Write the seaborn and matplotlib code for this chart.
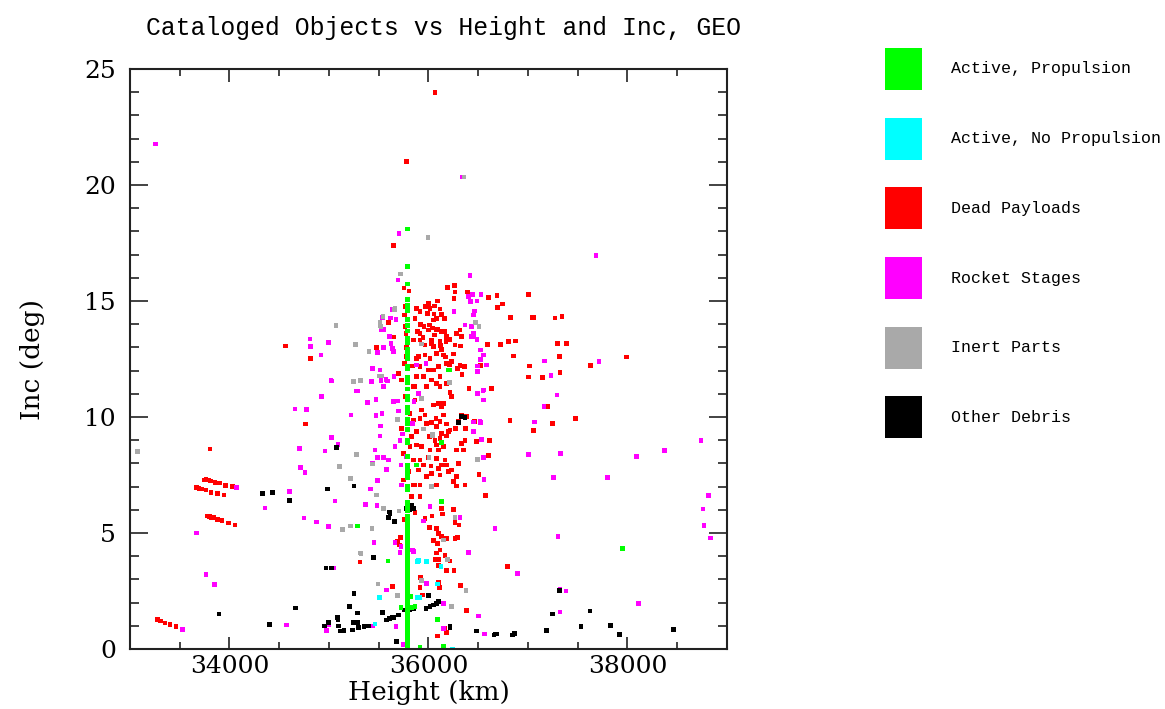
import pandas as pd
import seaborn as sns
import matplotlib.pyplot as plt
from matplotlib.patches import Rectangle
from matplotlib.ticker import MultipleLocator

# -----------------------------
# DATA (height km, inclination deg)
# -----------------------------
GEO_HEIGHT = 35786

red_x = [35780, 36065, 35650, 35754, 35804, 36263, 36193, 36266, 36389, 36256, 36604, 36690, 36744, 37005,
         36088, 36058, 35998, 35596, 35646, 35476,
         35881, 35915, 35968, 35988, 36015, 36055, 36116, 36133, 36159, 36083, 35920, 35955, 36008, 36042,
         36092, 36133, 36058, 36183, 36216, 36283, 36317, 36266, 36176, 36122, 36032, 35945, 35888, 35864,
         35847, 35915, 35770, 35757, 35763, 35775, 35790, 35780,
         36724, 36804, 36874, 36825, 37041, 37061, 36694, 36333, 36594, 36048,
         37271, 37342, 37297, 37387, 36852, 37314, 37988, 37017, 37626, 37003, 37144, 37322, 37198, 37479,
         37244, 37053, 36819, 36611, 36634, 36407, 36370, 36377, 36523,
         36360, 36337, 36317, 36290, 36250, 36210, 36233, 36320, 36173,
         36116, 36183, 36216, 36233, 36149, 36099, 36132, 36048, 36075, 36116, 36149, 36032, 36083, 36183,
         36199, 36132, 36015, 36065, 35965, 35932, 35915, 35982,
         35998, 36082, 36166, 36032, 35915, 35965, 36116, 36216, 36048, 36132, 35965, 35898, 36015, 36082,
         36149, 36183, 36099, 35998, 36048, 36116, 35915, 35948, 35881, 36032, 36082, 35982, 35864,
         36604, 36508, 36575,
         35881, 36008, 36116, 36183, 36082, 36149, 36015, 36099, 35931, 35881, 35998, 36082, 36166, 36132,
         36183, 36099, 36199, 36032, 36116, 35915, 35948, 35898, 35982, 36082, 35915, 35864, 36250, 36283,
         36367, 36283, 36233, 36300, 36350, 36333, 36283, 36216, 36273, 36300, 36333, 36383, 36460, 36367,
         36483, 36025,
         35757, 35696, 35730, 35847, 35764, 35864, 35814, 35847, 35730, 35831, 35814, 35747, 35847, 35797,
         35747, 35847, 35915, 35831, 35780, 35881, 35840,
         35757, 35864, 36132, 36256, 36139, 36266, 36307, 36035, 35965, 35284, 36008, 36082, 36099, 36132,
         36048, 36088, 36183, 36266, 36290, 35720, 35686, 35707, 35311, 36082, 36116, 36166, 36065, 36099,
         36216, 36099, 36183, 36256, 36792, 35921, 35915, 35941, 36099, 36109, 36323, 35640, 36383, 36183,
         36088, 36166, 36250,
         33744, 33764, 33787, 33810, 33854, 33897, 33961, 34028, 33670, 33693, 33720, 33763, 33814, 33877,
         33945, 33781, 33797, 33814, 33837, 33877, 33925, 33988, 34055, 33275, 33308, 33352, 33402, 33462,
         33804, 34765, 34565, 34816]
red_y = [21.0, 24.0, 17.4, 15.56, 15.43, 15.66, 15.58, 15.39, 15.39, 15.1, 15.15, 15.24, 14.87, 15.28,
         15.0, 14.78, 14.88, 14.08, 13.44, 13.0,
         14.68, 14.55, 14.76, 14.47, 14.68, 14.44, 14.66, 14.43, 14.25, 14.25, 14.0, 13.9, 13.97, 13.84,
         13.78, 13.68, 13.53, 13.46, 13.35, 13.61, 13.75, 13.1, 13.26, 13.07, 13.15, 13.42, 13.69, 14.24,
         13.32, 13.6, 14.76, 14.4, 13.9, 13.6, 13.3, 13.0,
         13.13, 13.25, 13.28, 14.29, 14.3, 14.28, 14.72, 13.46, 13.13, 14.18,
         14.26, 14.34, 13.18, 13.18, 12.63, 12.6, 12.58, 12.19, 12.21, 11.72, 11.7, 11.91, 10.46, 9.93,
         9.71, 9.41, 9.86, 9.0, 11.23, 11.24, 9.51, 10.01, 12.21,
         12.18, 11.84, 12.22, 12.09, 12.72, 12.24, 12.4, 13.06, 12.58,
         11.31, 11.45, 11.06, 10.88, 10.59, 10.59, 10.45, 10.52, 9.94, 9.8, 10.09, 9.76, 9.59, 9.69,
         9.38, 9.3, 9.15, 9.0, 10.09, 10.3, 9.94, 9.73,
         13.75, 13.75, 13.68, 13.32, 13.32, 13.1, 13.25, 13.32, 13.05, 12.91, 12.67, 12.6, 12.53, 12.74,
         12.67, 12.31, 12.17, 12.03, 12.03, 11.74, 12.17, 11.74, 11.74, 11.6, 11.45, 11.31, 11.31,
         8.34, 7.53, 6.62,
         9.38, 9.16, 9.08, 9.18, 8.79, 8.72, 8.58, 8.58, 8.72, 8.79, 8.26, 8.21, 8.15, 7.93,
         7.93, 7.79, 7.64, 7.57, 7.5, 8.15, 7.93, 7.72, 7.43, 7.07, 7.07, 7.07, 7.21, 7.03,
         7.07, 7.43, 7.72, 8.0, 8.58, 8.87, 8.58, 9.44, 9.51, 9.8, 10.09, 10.01, 9.8, 9.0,
         8.94, 7.89,
         12.31, 11.88, 11.6, 11.31, 10.88, 10.73, 10.16, 9.87, 9.51, 9.16, 8.72, 8.43, 8.15, 7.64,
         7.28, 7.07, 6.57, 6.57, 12.6, 12.53, 12.2,
         5.59, 5.89, 6.06, 5.99, 5.82, 5.46, 5.34, 5.73, 5.63, 5.3, 5.25, 5.2, 4.99, 4.84,
         4.67, 4.55, 4.77, 4.77, 4.81, 4.81, 4.63, 4.48, 3.75, 4.13, 4.27, 4.02, 3.87, 3.87,
         3.79, 3.6, 3.38, 3.39, 3.55, 3.09, 2.66, 2.33, 2.87, 2.66, 2.73, 2.69, 1.65, 0.7,
         0.56, 0.89, 6.0,
         7.28, 7.3, 7.28, 7.24, 7.17, 7.16, 7.06, 7.0, 6.97, 6.93, 6.89, 6.85, 6.75, 6.71,
         6.63, 5.73, 5.71, 5.68, 5.66, 5.59, 5.55, 5.43, 5.34, 1.28, 1.21, 1.12, 1.06, 0.96,
         8.62, 9.69, 13.06, 12.53]

magenta_x = [33258, 35703, 36337, 35693, 36417, 36443, 36529, 36402, 36422, 36486, 35635, 35533, 35543, 35620,
             35673, 35546, 35606, 35623, 35549, 36450, 36465, 36432, 36367, 36450, 36453, 36486, 36256, 36518,
             35640,
             37684, 37713, 37163, 37231, 37292, 37161, 37064, 38740, 36530, 36548, 36551, 36490, 36454, 36523,
             36453, 36584, 36490, 36490, 36520, 36551, 36520, 36432,
             35435, 35513, 35428, 35523, 35573, 35546, 35284, 35389, 35472, 35686, 35533, 35472, 35221, 35696,
             35519, 35513, 35740, 35462, 35489, 35546, 35596, 35435, 35580, 35724, 35663, 35419, 35730,
             36551, 37005, 36551, 36558, 36518, 36450,
             35881, 35898, 35854, 35840, 35975, 35713, 35780,
             35369, 35482, 36015, 36317, 35948, 35663, 35724, 35452, 35713, 35840, 36400, 36668, 36896, 35982,
             35580, 36149, 36500, 35438, 35673, 36149, 36560, 35747,
             33526, 34072, 33670, 33764, 33851, 34357, 34601, 34658, 34772, 34926, 35024, 35027, 35090, 34702,
             34960, 34716, 34759, 35060, 34749, 34876, 34996, 35047, 34575, 34977, 35000,
             37328, 38092, 38370, 37257, 37800, 38817, 38757, 38770, 38833, 37301, 37322, 37382, 38109, 37322,
             34809, 34816, 34995, 35529, 35613, 35489, 34920, 35020, 35278, 35646, 35653, 35646, 35589, 35486,
             35847]
magenta_y = [21.77, 17.9, 20.35, 15.9, 16.1, 15.29, 15.28, 15.19, 14.98, 15.0, 14.64, 14.28, 14.3, 14.27,
             14.2, 13.78, 13.46, 13.18, 13.0, 14.4, 14.57, 13.9, 13.97, 13.6, 13.46, 13.35, 14.54, 12.89,
             12.95,
             16.95, 12.38, 12.42, 11.78, 10.95, 10.46, 9.78, 9.0, 9.04, 11.12, 10.73, 11.0, 9.38, 9.76,
             9.78, 12.24, 12.2, 11.97, 12.49, 12.67, 12.89, 13.48,
             12.1, 12.03, 11.52, 11.57, 11.62, 11.31, 11.12, 10.63, 10.76, 10.69, 10.16, 10.06, 10.09, 10.26,
             9.61, 9.18, 9.27, 8.58, 8.26, 8.26, 8.15, 8.0, 7.75, 7.93, 8.72, 6.9, 7.07,
             11.16, 8.39, 8.26, 7.31, 9.8, 9.38,
             12.24, 11.02, 10.66, 9.73, 12.31, 9.0, 8.3,
             6.24, 6.19, 6.13, 5.68, 5.52, 4.6, 4.41, 4.6, 4.15, 4.27, 4.16, 5.2, 3.26, 2.83,
             2.54, 1.97, 1.42, 0.99, 0.96, 0.89, 0.65, 0.2,
             0.85, 6.96, 5.0, 3.2, 2.79, 6.08, 6.78, 10.34, 10.32, 10.88, 11.55, 9.11, 8.82, 8.63,
             8.53, 7.83, 7.6, 6.38, 5.65, 5.47, 5.27, 3.49, 1.03, 0.79, 1.06,
             8.42, 8.29, 8.55, 7.39, 7.39, 6.62, 6.03, 5.33, 4.78, 4.84, 2.59, 2.5, 1.95, 1.59,
             13.36, 13.05, 13.2, 13.75, 13.47, 12.78, 12.67, 11.57, 11.12, 10.67, 11.74, 12.82, 11.55, 7.26,
             4.2]

gray_x = [35995, 36357, 35717, 35660, 35663, 35543, 35513, 35513, 35267, 35070, 35523, 35402, 35931, 36474,
          36507, 35506, 35526, 35244, 35318, 35686, 35278, 35438, 35218, 35479, 35104, 33074, 35546, 35703,
          35218, 35137, 35432, 35131, 36266, 36149, 35318, 36189, 35931, 36377, 35492, 35690, 36233, 36210,
          36040, 36038, 36005, 36032, 35931, 35948, 36490, 35321]
gray_y = [17.75, 20.35, 16.16, 14.63, 14.68, 14.32, 14.07, 13.92, 13.13, 13.94, 13.9, 12.82, 13.15, 14.08,
          13.9, 11.77, 11.77, 11.52, 11.57, 9.9, 8.39, 7.97, 7.34, 6.63, 7.86, 8.5, 6.06, 5.95,
          5.3, 5.16, 5.2, 5.13, 5.68, 4.7, 4.13, 3.87, 2.94, 2.51, 2.8, 2.3, 1.82, 11.48,
          9.27, 9.21, 8.26, 7.0, 10.8, 9.48, 8.17, 4.12]

black_x = [36300, 36333, 36367, 35251, 35613, 35596, 35656, 35780, 35446, 35251, 35998, 35975, 36015, 36048,
           36082, 36102, 35204, 35284, 35244, 35284, 35237, 35294, 35352, 35395, 35539, 35580, 35606, 35636,
           35653, 35696, 35754, 35814, 35847, 35151, 36216, 36483, 36658, 36685, 36845, 36869, 35680, 33894,
           34333, 34430, 34605, 35077, 34986, 34970, 35024, 34665, 34400, 34953, 34997, 35094, 35111, 35087,
           35090, 37314, 37244, 37623, 36668, 36863, 37187, 37532, 37831, 37918, 38461, 35831, 35814, 35854,
           36216, 35606]
black_y = [9.76, 10.01, 9.99, 7.03, 5.85, 5.66, 5.49, 6.06, 3.95, 2.38, 2.3, 1.75, 1.82, 1.9,
           1.97, 2.05, 1.82, 1.56, 1.13, 1.13, 0.82, 0.93, 0.96, 0.99, 1.58, 1.25, 1.32, 1.37,
           1.37, 1.47, 1.68, 1.68, 1.75, 0.79, 0.96, 0.78, 0.6, 0.65, 0.6, 0.68, 0.32, 1.51,
           6.71, 6.74, 6.39, 8.69, 6.89, 3.49, 3.49, 1.77, 1.06, 0.99, 1.13, 0.99, 0.78, 1.37,
           1.25, 2.53, 1.51, 1.64, 0.65, 0.68, 0.79, 0.96, 1.02, 0.63, 0.85, 6.18, 5.99, 6.06,
           0.92, 5.9]

cyan_x = [35891, 35898, 35982, 36125, 36088, 35506, 35888, 35915, 35462, 36243]
cyan_y = [3.77, 3.81, 3.77, 3.55, 2.8, 2.23, 2.23, 2.23, 1.08, 0.0]

green_x = [36199, 36210, 36132, 35881, 35593, 35284, 37950, 35821, 36088, 35915, 36149, 35724, 35831, 35864,
           36132]
green_y = [12.03, 12.03, 6.35, 7.93, 3.79, 5.3, 4.32, 2.25, 1.28, 0.07, 0.1, 1.78, 1.78, 1.82,
           8.91]
# active satellites stacked on the GEO belt
green_geo_y = [18.1, 16.5, 15.73, 15.07, 14.8, 14.6, 14.2, 13.95, 13.7, 13.4, 13.2, 12.9, 12.8, 12.6,
               12.5, 12.2, 12.1, 11.7, 11.5, 11.2, 10.9, 10.75, 10.4, 10.2, 9.9, 9.7, 9.45, 9.0, 8.9,
               8.3, 7.9, 7.7, 7.5, 7.4, 7.0, 6.85, 6.33, 6.2, 6.1, 5.95, 5.73, 5.56, 5.4, 5.25, 5.1,
               4.95, 4.8, 4.65, 4.5, 4.35, 4.2, 4.05, 3.9, 3.75, 3.6, 3.45, 3.3, 3.15, 3.0, 2.85, 2.7,
               2.55, 2.4, 2.25, 2.1, 1.95, 1.8, 1.65, 1.5, 1.35, 1.2, 1.05, 0.9, 0.75, 0.6, 0.45, 0.3,
               0.15, 0.02]

categories = ["Active, Propulsion", "Active, No Propulsion", "Dead Payloads",
              "Rocket Stages", "Inert Parts", "Other Debris"]
colors = ["#00ff00", "#00ffff", "#ff0000", "#ff00ff", "#a9a9a9", "#000000"]

# -----------------------------
# BUILD TABLE (draw order: red, magenta, gray, black, cyan, green)
# -----------------------------
parts = [
    pd.DataFrame({"Height": red_x, "Inc": red_y, "Type": "Dead Payloads"}),
    pd.DataFrame({"Height": magenta_x, "Inc": magenta_y, "Type": "Rocket Stages"}),
    pd.DataFrame({"Height": gray_x, "Inc": gray_y, "Type": "Inert Parts"}),
    pd.DataFrame({"Height": black_x, "Inc": black_y, "Type": "Other Debris"}),
    pd.DataFrame({"Height": cyan_x, "Inc": cyan_y, "Type": "Active, No Propulsion"}),
    pd.DataFrame({"Height": green_x, "Inc": green_y, "Type": "Active, Propulsion"}),
    pd.DataFrame({"Height": GEO_HEIGHT, "Inc": green_geo_y, "Type": "Active, Propulsion"}),
]
df = pd.concat(parts, ignore_index=True)
palette = dict(zip(categories, colors))

# -----------------------------
# SCATTER PLOT
# -----------------------------
fig = plt.figure(figsize=(11.65, 7.09), dpi=100)
ax = fig.add_axes([130 / 1165, 1 - 649 / 709, 597 / 1165, 580 / 709])

sns.scatterplot(data=df, x="Height", y="Inc", hue="Type", palette=palette,
                marker="s", s=11, linewidth=0, legend=False, ax=ax)

ax.set_xlim(33000, 39000)
ax.set_ylim(0, 25)
ax.xaxis.set_major_locator(MultipleLocator(2000))
ax.xaxis.set_minor_locator(MultipleLocator(500))
ax.yaxis.set_major_locator(MultipleLocator(5))
ax.yaxis.set_minor_locator(MultipleLocator(1))
ax.set_xticks([34000, 36000, 38000])
ax.tick_params(axis="both", which="both", direction="in", top=True, right=True, width=1.2, color="#222222")
ax.tick_params(axis="x", which="major", length=9, pad=4)
ax.tick_params(axis="x", which="minor", length=5)
ax.tick_params(axis="y", which="major", length=13, pad=10)
ax.tick_params(axis="y", which="minor", length=6.5)
for lab in ax.get_xticklabels() + ax.get_yticklabels():
    lab.set_fontfamily("DejaVu Serif")
    lab.set_fontsize(18)
for sp in ax.spines.values():
    sp.set_linewidth(1.5)
    sp.set_color("#222222")

ax.set_xlabel("Height (km)", fontfamily="DejaVu Serif", fontsize=19, labelpad=2)
ax.set_ylabel("Inc (deg)", fontfamily="DejaVu Serif", fontsize=19, labelpad=28)

fig.text(444 / 1165, 1 - 28 / 709, "Cataloged Objects vs Height and Inc, GEO",
         fontfamily="Liberation Mono", fontsize=17.8, ha="center", va="center")

# -----------------------------
# LEGEND (colour boxes on the right)
# -----------------------------
box_centers = [69, 139, 208, 278, 348, 417]
for name, col, cy in zip(categories, colors, box_centers):
    fig.add_artist(Rectangle((885 / 1165, 1 - (cy + 21) / 709), 37 / 1165, 42 / 709,
                             transform=fig.transFigure, facecolor=col, edgecolor="none"))
    fig.text(951 / 1165, 1 - cy / 709, name, fontfamily="Liberation Mono", fontsize=12,
             ha="left", va="center")

fig.savefig("out.png", dpi=100)
